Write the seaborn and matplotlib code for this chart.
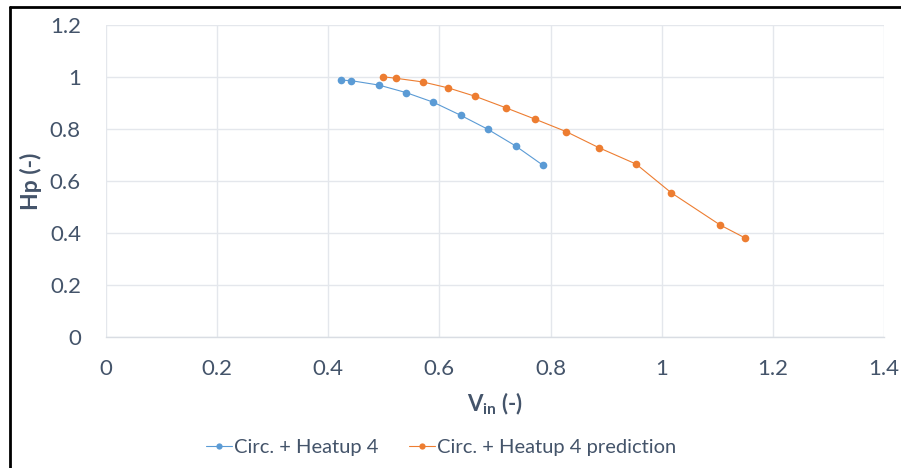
import matplotlib
matplotlib.use("Agg")
import matplotlib.pyplot as plt
from matplotlib.lines import Line2D
import seaborn as sns
import pandas as pd

# Measured heat-up run
vin_meas = [0.422, 0.441, 0.491, 0.540, 0.589, 0.638, 0.687, 0.737, 0.786]
hp_meas = [0.988, 0.986, 0.969, 0.940, 0.903, 0.853, 0.799, 0.735, 0.661]

# Predicted curve for the same run
vin_pred = [0.498, 0.522, 0.570, 0.616, 0.664, 0.719, 0.772, 0.828, 0.887, 0.954, 1.017, 1.105, 1.149]
hp_pred = [1.001, 0.995, 0.981, 0.958, 0.926, 0.882, 0.838, 0.790, 0.728, 0.665, 0.555, 0.431, 0.382]

series_names = ["Circ. + Heatup 4", "Circ. + Heatup 4 prediction"]
x_ticks = [0, 0.2, 0.4, 0.6, 0.8, 1.0, 1.2, 1.4]
x_tick_labels = ["0", "0.2", "0.4", "0.6", "0.8", "1", "1.2", "1.4"]
y_ticks = [0, 0.2, 0.4, 0.6, 0.8, 1.0, 1.2]
y_tick_labels = ["0", "0.2", "0.4", "0.6", "0.8", "1", "1.2"]

sns.set_theme(style="white")
plt.rcParams["font.family"] = ["Lato", "DejaVu Sans"]
plt.rcParams["mathtext.fontset"] = "custom"
plt.rcParams["mathtext.rm"] = "Lato"
plt.rcParams["mathtext.bf"] = "Lato:bold"

TEXT = "#44546A"
GRID = "#E4E7EC"
palette = {series_names[0]: "#5B9BD5", series_names[1]: "#ED7D31"}

df = pd.concat([
    pd.DataFrame({"vin": vin_meas, "hp": hp_meas, "series": series_names[0]}),
    pd.DataFrame({"vin": vin_pred, "hp": hp_pred, "series": series_names[1]}),
], ignore_index=True)

W, H = 901, 468
fig = plt.figure(figsize=(W / 100, H / 100), dpi=100)
ax = fig.add_axes([106 / W, (H - 337) / H, (884 - 106) / W, (337 - 25) / H])

sns.lineplot(data=df, x="vin", y="hp", hue="series", palette=palette,
             marker="o", markersize=5.5, markeredgewidth=0, linewidth=0.8,
             sort=False, estimator=None, ax=ax, legend=False, zorder=3)

ax.set_xlim(0, 1.4)
ax.set_ylim(0, 1.2)
ax.set_xticks(x_ticks)
ax.set_xticklabels(x_tick_labels)
ax.set_yticks(y_ticks)
ax.set_yticklabels(y_tick_labels)
ax.tick_params(axis="both", length=0, labelsize=16, colors=TEXT)
ax.tick_params(axis="x", pad=16)
ax.tick_params(axis="y", pad=18)
ax.grid(True, color=GRID, linewidth=1.0)
ax.set_axisbelow(True)
for side in ["top", "right", "left"]:
    ax.spines[side].set_visible(False)
ax.spines["bottom"].set_color("#D9DDE3")
ax.spines["bottom"].set_linewidth(1.0)

ax.set_xlabel(r"$\mathbf{V}_{\mathbf{in}}$ (-)", fontsize=16, fontweight="bold",
              color=TEXT)
ax.xaxis.set_label_coords(0.5, -(391 - 337) / (337 - 25))
ax.set_ylabel("Hp (-)", fontsize=16.5, fontweight="bold", color=TEXT)
ax.yaxis.set_label_coords(-(106 - 42) / (884 - 106), 0.5)

handles = [Line2D([], [], color=palette[n], marker="o", markersize=4.5,
                  markeredgewidth=0, linewidth=0.8) for n in series_names]
fig.legend(handles, series_names, loc="center", bbox_to_anchor=(441 / W, 1 - 447 / H),
           ncol=2, frameon=False, fontsize=14.5, labelcolor=TEXT,
           handlelength=1.3, handletextpad=0.1, columnspacing=1.5)

# Black outer frame on the left and top edges
fig.add_artist(Line2D([9.5 / W, 9.5 / W], [0, 1 - 7 / H], color="black",
                      linewidth=2, transform=fig.transFigure))
fig.add_artist(Line2D([9.5 / W, 1], [1 - 7 / H, 1 - 7 / H], color="black",
                      linewidth=2, transform=fig.transFigure))

fig.savefig("out.png", dpi=100)
